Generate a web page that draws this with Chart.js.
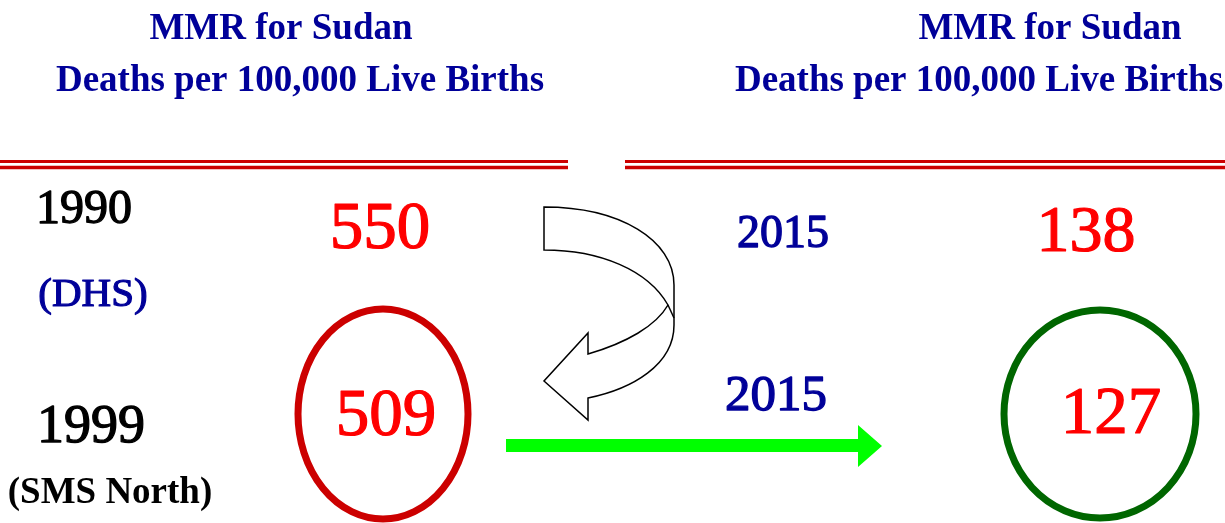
<!DOCTYPE html>
<html>
<head>
<meta charset="utf-8">
<title>MMR for Sudan</title>
<script src="https://cdn.jsdelivr.net/npm/chart.js@4"></script>
<style>
  html, body { margin: 0; padding: 0; background: #ffffff; }
  #wrap { width: 1225px; height: 523px; }
</style>
</head>
<body>
<div id="wrap"><canvas id="mmr" width="1225" height="523"></canvas></div>
<script>
//------------------------------- DATA ---------------------------------------
const titleLines = ['MMR for Sudan', 'Deaths per 100,000 Live Births'];
const surveyYears = ['1990', '1999'];
const surveySources = ['(DHS)', '(SMS North)'];
const surveyMMR = [550, 509];
const targetYears = ['2015', '2015'];
const targetMMR = [138, 127];

//------------------------------- LAYOUT -------------------------------------
// page is drawn on a 1225 x 523 value grid, y going down
const SERIF = '"Liberation Serif", "Times New Roman", serif';
const NAVY = '#000099';
const RED = '#ff0000';

const titleX = [[281, 300], [1050, 979]];   // left block, right block
const titleBase = [39, 91];
const ruleSpans = [[0, 568], [625, 1225]];

const yearPos = [{ x: 84, y: 223, size: 48 }, { x: 91, y: 442, size: 54 }];
const sourcePos = [{ x: 93, y: 306, size: 41, bold: false, color: NAVY },
                   { x: 110, y: 503, size: 37, bold: true, color: '#000000' }];
const surveyPos = [{ x: 380, y: 248, size: 67 }, { x: 386, y: 435, size: 67 }];
const targetYearPos = [{ x: 783, y: 247, size: 46 }, { x: 776, y: 410, size: 51 }];
const targetPos = [{ x: 1086, y: 251, size: 66 }, { x: 1111, y: 433, size: 67 }];

// ellipses circle the second row (1999 -> 2015)
const rings = [
    { ds: 0, i: 1, dx: -3, dy: -21, rx: 85, ry: 105, color: '#cc0000' },
    { ds: 1, i: 1, dx: -11, dy: -19, rx: 96, ry: 104, color: '#006600' }
];

//------------------------------- HELPERS ------------------------------------
function font(size, bold) {
    return (bold ? 'bold ' : '') + size + 'px ' + SERIF;
}

// heavy = thin outline in the same colour, the slide's digits are heavier
function text(ctx, str, x, y, size, color, bold, heavy) {
    ctx.font = font(size, bold);
    ctx.fillStyle = color;
    ctx.textAlign = 'center';
    ctx.textBaseline = 'alphabetic';
    ctx.fillText(str, x, y);
    if (heavy) {
        ctx.lineWidth = heavy;
        ctx.strokeStyle = color;
        ctx.lineJoin = 'round';
        ctx.strokeText(str, x, y);
    }
}

function drawTurnArrow(ctx, px) {
    // curved hollow arrow between the two numbers of the first column
    ctx.save();
    ctx.beginPath();
    ctx.moveTo(...px(544, 207));
    ctx.bezierCurveTo(...px(620, 207), ...px(674, 240), ...px(674, 285));
    ctx.lineTo(...px(674, 325));
    ctx.bezierCurveTo(...px(674, 365), ...px(632, 389), ...px(588, 398));
    ctx.lineTo(...px(588, 420));
    ctx.lineTo(...px(544, 381));
    ctx.lineTo(...px(588, 333));
    ctx.lineTo(...px(588, 354));
    ctx.bezierCurveTo(...px(626, 343), ...px(656, 326), ...px(668, 305));
    ctx.bezierCurveTo(...px(648, 270), ...px(600, 250), ...px(544, 250));
    ctx.closePath();
    ctx.fillStyle = '#ffffff';
    ctx.fill();
    ctx.lineWidth = 1.5;
    ctx.strokeStyle = '#000000';
    ctx.stroke();
    // fold line of the ribbon
    ctx.beginPath();
    ctx.moveTo(...px(668, 305));
    ctx.lineTo(...px(674, 318));
    ctx.stroke();
    ctx.restore();
}

function drawGreenArrow(ctx, px) {
    ctx.save();
    ctx.beginPath();
    ctx.moveTo(...px(506, 439));
    ctx.lineTo(...px(858, 439));
    ctx.lineTo(...px(858, 425));
    ctx.lineTo(...px(882, 446));
    ctx.lineTo(...px(858, 467));
    ctx.lineTo(...px(858, 452));
    ctx.lineTo(...px(506, 452));
    ctx.closePath();
    ctx.fillStyle = '#00ff00';
    ctx.fill();
    ctx.restore();
}

//------------------------------- PLUGIN -------------------------------------
const slidePlugin = {
    id: 'slide',
    afterDatasetsDraw(chart) {
        const ctx = chart.ctx;
        const sx = chart.scales.x, sy = chart.scales.y;
        const px = (x, y) => [sx.getPixelForValue(x), sy.getPixelForValue(y)];

        // titles
        titleX.forEach(xs => {
            titleLines.forEach((line, k) => {
                const p = px(xs[k], titleBase[k]);
                text(ctx, line, p[0], p[1], 37, NAVY, true);
            });
        });

        // double red rules
        ctx.save();
        ctx.strokeStyle = '#cc0000';
        ruleSpans.forEach(s => {
            [[161.5, 3], [167.5, 3.5]].forEach(r => {
                const a = px(s[0], r[0]), b = px(s[1], r[0]);
                ctx.lineWidth = r[1];
                ctx.beginPath();
                ctx.moveTo(a[0], a[1]);
                ctx.lineTo(b[0], b[1]);
                ctx.stroke();
            });
        });
        ctx.restore();

        // row labels
        ctx.save();
        surveyYears.forEach((y, i) => {
            const p = px(yearPos[i].x, yearPos[i].y);
            text(ctx, y, p[0], p[1], yearPos[i].size, '#000000', false, 1.3);
        });
        surveySources.forEach((s, i) => {
            const o = sourcePos[i];
            const p = px(o.x, o.y);
            text(ctx, s, p[0], p[1], o.size, o.color, o.bold, o.bold ? 0 : 1.2);
        });
        targetYears.forEach((y, i) => {
            const p = px(targetYearPos[i].x, targetYearPos[i].y);
            text(ctx, y, p[0], p[1], targetYearPos[i].size, NAVY, false, 1.3);
        });

        // values at their points
        const values = [surveyMMR, targetMMR];
        const sizes = [surveyPos, targetPos];
        chart.data.datasets.forEach((ds, d) => {
            const meta = chart.getDatasetMeta(d);
            meta.data.forEach((pt, i) => {
                text(ctx, String(values[d][i]), pt.x, pt.y, sizes[d][i].size, RED, false, 1.2);
            });
        });
        ctx.restore();

        // rings
        ctx.save();
        rings.forEach(r => {
            const pt = chart.getDatasetMeta(r.ds).data[r.i];
            ctx.beginPath();
            ctx.ellipse(pt.x + r.dx, pt.y + r.dy, r.rx, r.ry, 0, 0, Math.PI * 2);
            ctx.lineWidth = 7;
            ctx.strokeStyle = r.color;
            ctx.stroke();
        });
        ctx.restore();

        drawTurnArrow(ctx, px);
        drawGreenArrow(ctx, px);
    }
};

//------------------------------- CHART --------------------------------------
const ctx = document.getElementById('mmr').getContext('2d');
const mmrChart = new Chart(ctx, {
    type: 'scatter',
    data: {
        datasets: [
            {
                label: 'Survey MMR',
                data: surveyMMR.map((v, i) => ({ x: surveyPos[i].x, y: surveyPos[i].y, v: v })),
                pointRadius: 0
            },
            {
                label: '2015 MMR',
                data: targetMMR.map((v, i) => ({ x: targetPos[i].x, y: targetPos[i].y, v: v })),
                pointRadius: 0
            }
        ]
    },
    options: {
        responsive: false,
        animation: false,
        layout: { padding: 0 },
        scales: {
            x: { type: 'linear', min: 0, max: 1225, display: false },
            y: { type: 'linear', min: 0, max: 523, reverse: true, display: false }
        },
        plugins: {
            legend: { display: false },
            tooltip: { enabled: false },
            title: { display: false }
        },
        events: []
    },
    plugins: [slidePlugin]
});
</script>
</body>
</html>
